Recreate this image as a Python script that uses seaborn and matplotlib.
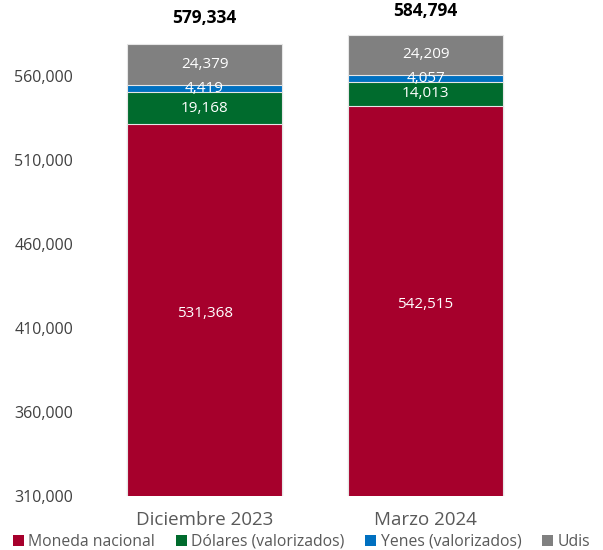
import matplotlib
matplotlib.use("Agg")
import matplotlib.pyplot as plt
import seaborn as sns
import numpy as np
import pandas as pd
from matplotlib.patches import Patch

categories = ["Diciembre 2023", "Marzo 2024"]
series = ["Moneda nacional", "Dólares (valorizados)", "Yenes (valorizados)", "Udis"]
moneda = [531368, 542515]
dolares = [19168, 14013]
yenes = [4419, 4057]
udis = [24379, 24209]
totals = [579334, 584794]
yticks = [310000, 360000, 410000, 460000, 510000, 560000]
colors = ["#A6002C", "#006B2D", "#0070C0", "#808080"]

sns.set_theme(style="white")
plt.rcParams["font.family"] = ["Open Sans", "DejaVu Sans"]

fig = plt.figure(figsize=(6.03, 5.5), dpi=100)
ax = fig.add_axes([0.156, 0.098, 0.733, 0.855])

layers = [moneda, dolares, yenes, udis]
cum = np.cumsum(np.array(layers), axis=0)
# draw from top cumulative down so lower layers overlay
for i in range(len(layers) - 1, -1, -1):
    df = pd.DataFrame({"cat": categories, "val": cum[i]})
    sns.barplot(data=df, x="cat", y="val", color=colors[i], width=0.70,
                edgecolor="#e6e6e6", linewidth=0.8, saturation=1, ax=ax)

# segment labels
for j in range(len(categories)):
    for i in range(len(layers)):
        lo = cum[i - 1][j] if i > 0 else 310000
        hi = cum[i][j]
        mid = (lo + hi) / 2
        if i == 0:
            mid -= 2000
        ax.text(j, mid, f"{layers[i][j]:,}", ha="center", va="center",
                color="white", fontsize=11)
    ax.text(j, totals[j] + 15500 - 1500 * j, f"{totals[j]:,}", ha="center", va="center",
            color="black", fontsize=12.5, fontweight="bold", clip_on=False)

ax.set_ylim(310000, 590000)
ax.set_xlim(-0.5, 1.5)
ax.set_yticks(yticks)
ax.set_yticklabels([f"{v:,}" for v in yticks])
ax.tick_params(axis="y", labelsize=11.5, labelcolor="#404040", length=0, pad=15)
ax.tick_params(axis="x", labelsize=13.5, labelcolor="#595959", length=0, pad=11)
ax.set_xlabel("")
ax.set_ylabel("")
for s in ax.spines.values():
    s.set_visible(False)

handles = [Patch(facecolor=c, edgecolor="none", label=s) for c, s in zip(colors, series)]
fig.legend(handles=handles, loc="lower center", bbox_to_anchor=(0.5, -0.025), ncol=4,
           frameon=False, fontsize=11.3, labelcolor="#595959", handlelength=0.7,
           handleheight=0.7, handletextpad=0.3, columnspacing=1.3)

fig.savefig("out.png", dpi=100)
